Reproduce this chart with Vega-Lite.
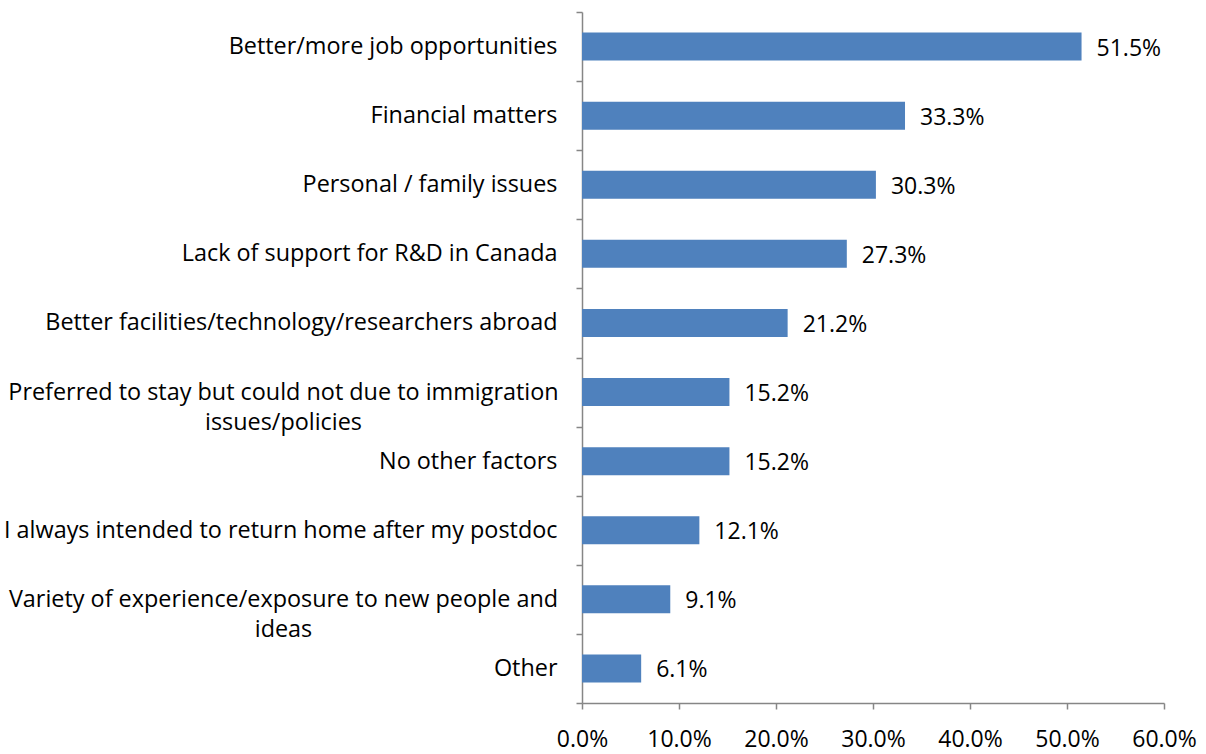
{
  "$schema": "https://vega.github.io/schema/vega-lite/v6.json",
  "autosize": "none",
  "width": 582,
  "height": 691,
  "padding": {"left": 582, "top": 12, "right": 42, "bottom": 51},
  "background": "white",
  "config": {
    "view": {"stroke": null},
    "font": "Open Sans",
    "axis": {"labelFont": "Open Sans", "labelFontSize": 23.4, "labelColor": "#000000", "domainColor": "#868686", "tickColor": "#868686", "grid": false, "title": null, "domainWidth": 1.5, "tickWidth": 1.5}
  },
  "data": {
    "values": [
      {"factor": "Better/more job opportunities", "pct": 0.515},
      {"factor": "Financial matters", "pct": 0.333},
      {"factor": "Personal / family issues", "pct": 0.303},
      {"factor": "Lack of support for R&D in Canada", "pct": 0.273},
      {"factor": "Better facilities/technology/researchers abroad", "pct": 0.212},
      {"factor": "Preferred to stay but could not due to immigration issues/policies", "pct": 0.152},
      {"factor": "No other factors", "pct": 0.152},
      {"factor": "I always intended to return home after my postdoc", "pct": 0.121},
      {"factor": "Variety of experience/exposure to new people and ideas", "pct": 0.091},
      {"factor": "Other", "pct": 0.061}
    ]
  },
  "encoding": {
    "y": {
      "field": "factor",
      "type": "nominal",
      "sort": null,
      "scale": {"paddingInner": 0, "paddingOuter": 0},
      "axis": {
        "tickBand": "extent",
        "tickSize": 6,
        "labelPadding": {"condition": {"test": "datum.value == 'Preferred to stay but could not due to immigration issues/policies' || datum.value == 'Variety of experience/exposure to new people and ideas'", "value": 293}, "value": 19},
        "labelAlign": {"condition": {"test": "datum.value == 'Preferred to stay but could not due to immigration issues/policies' || datum.value == 'Variety of experience/exposure to new people and ideas'", "value": "center"}, "value": "right"},
        "labelLimit": 0,
        "labelExpr": "datum.label == 'Preferred to stay but could not due to immigration issues/policies' ? ['Preferred to stay but could not due to immigration', 'issues/policies'] : datum.label == 'Variety of experience/exposure to new people and ideas' ? ['Variety of experience/exposure to new people and', 'ideas'] : datum.label",
        "labelLineHeight": 30
      }
    },
    "x": {
      "field": "pct",
      "type": "quantitative",
      "scale": {"domain": [0, 0.6], "nice": false},
      "axis": {"format": ".1%", "values": [0, 0.1, 0.2, 0.3, 0.4, 0.5, 0.6], "tickSize": 6, "labelPadding": 19, "labelFontSize": 23, "labelFlush": false}
    }
  },
  "layer": [
    {"mark": {"type": "bar", "color": "#4F81BD", "height": {"band": 0.405}}},
    {"mark": {"type": "text", "align": "left", "dx": 15, "dy": 2, "fontSize": 23, "font": "Open Sans", "color": "#000000"},
     "encoding": {"text": {"field": "pct", "type": "quantitative", "format": ".1%"}}}
  ]
}
